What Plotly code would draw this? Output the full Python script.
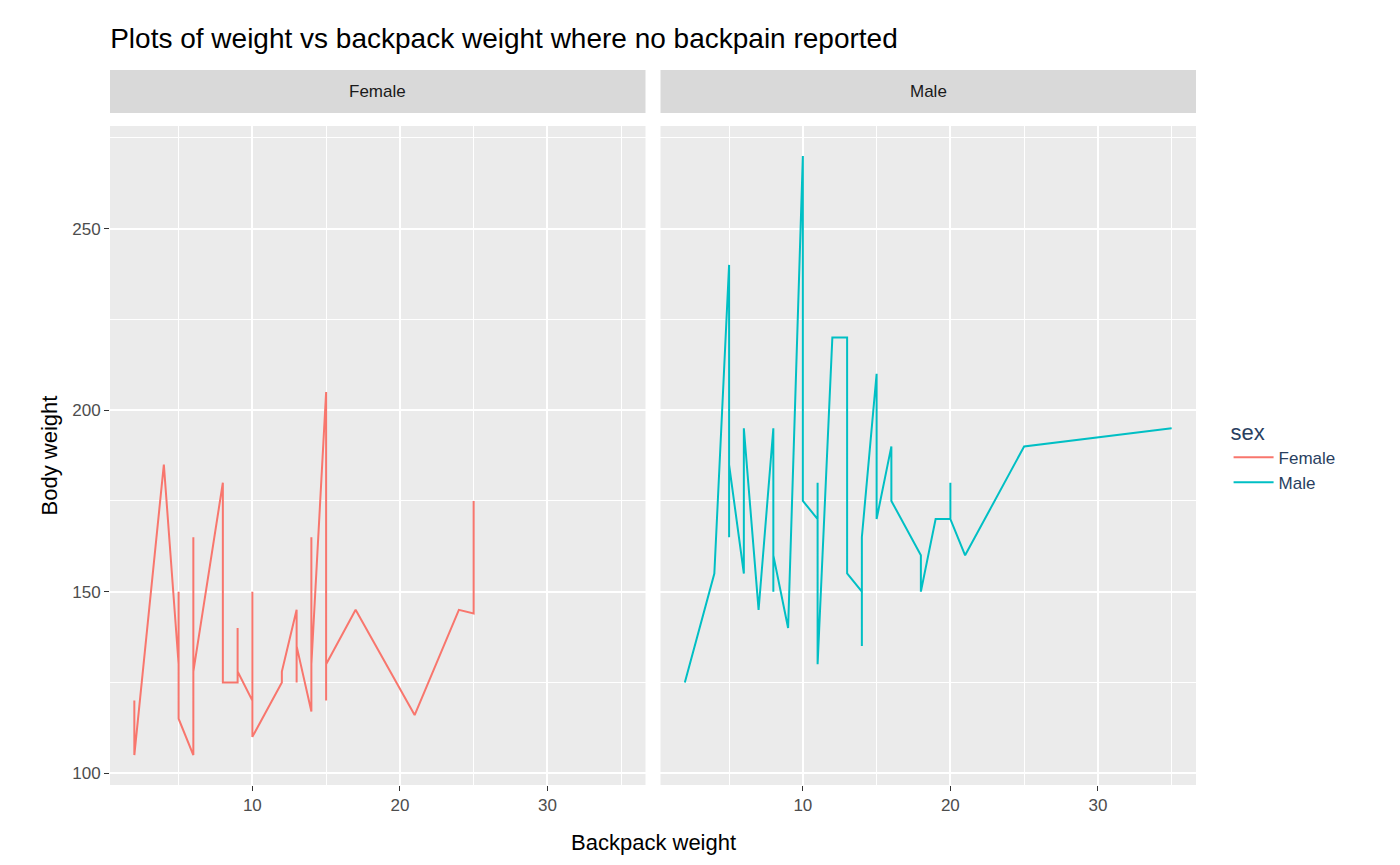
import plotly.graph_objects as go
from plotly.subplots import make_subplots

female_x = [2, 2, 4, 5, 5, 5, 6, 6, 6, 8, 8, 9, 9, 9, 10, 10, 10, 12, 12, 13, 13, 13,
            14, 14, 14, 15, 15, 15, 17, 21, 24, 25, 25]
female_y = [120, 105, 185, 130, 150, 115, 105, 165, 128, 180, 125, 125, 140, 128, 120, 150, 110,
            125, 128, 145, 125, 135, 117, 165, 130, 205, 120, 130, 145, 116, 145, 144, 175]
male_x = [2, 4, 5, 5, 5, 6, 6, 7, 8, 8, 8, 9, 10, 10, 11, 11, 11, 12, 13, 13, 14, 14, 14,
          15, 15, 16, 16, 18, 18, 19, 20, 20, 20, 21, 25, 35]
male_y = [125, 155, 240, 165, 185, 155, 195, 145, 195, 150, 160, 140, 270, 175, 170, 180, 130,
          220, 220, 155, 150, 135, 165, 210, 170, 190, 175, 160, 150, 170, 170, 180, 170, 160,
          190, 195]

RED = "#F8766D"
TEAL = "#00BFC4"
FONT = "Liberation Sans, Arial, sans-serif"

fig = make_subplots(rows=1, cols=2, shared_yaxes=True, horizontal_spacing=0.0138,
                    subplot_titles=["Female", "Male"])
fig.add_trace(go.Scatter(x=female_x, y=female_y, mode="lines", name="Female",
                         line=dict(color=RED, width=2)), 1, 1)
fig.add_trace(go.Scatter(x=male_x, y=male_y, mode="lines", name="Male",
                         line=dict(color=TEAL, width=2)), 1, 2)

for c in (1, 2):
    fig.update_xaxes(range=[0.35, 36.65], tickvals=[10, 20, 30], showgrid=True,
                     gridcolor="white", gridwidth=1.8, zeroline=False, automargin=False,
                     minor=dict(tickvals=[5, 15, 25, 35], showgrid=True, gridcolor="white", gridwidth=0.8),
                     ticks="outside", ticklen=5, tickcolor="#333333",
                     tickfont=dict(size=17, color="#4d4d4d"), row=1, col=c)
    fig.update_yaxes(range=[96.75, 278.25], tickvals=[100, 150, 200, 250], showgrid=True,
                     gridcolor="white", gridwidth=1.8, zeroline=False, automargin=False,
                     minor=dict(tickvals=[125, 175, 225, 275], showgrid=True, gridcolor="white", gridwidth=0.8),
                     row=1, col=c)
fig.update_yaxes(ticks="outside", ticklen=5, tickcolor="#333333",
                 tickfont=dict(size=17, color="#4d4d4d"),
                 title=dict(text="Body weight", font=dict(size=22, color="black"), standoff=8),
                 row=1, col=1)

# facet strips
for xr in ["x domain", "x2 domain"]:
    fig.add_shape(type="rect", xref=xr, yref="paper", x0=0, x1=1, y0=1.0197, y1=1.085,
                  fillcolor="#D9D9D9", line=dict(width=0), layer="below")
for a in fig.layout.annotations:
    a.update(y=1.052, yanchor="middle", font=dict(size=17, color="#1a1a1a"))

fig.add_annotation(text="Backpack weight", xref="paper", yref="paper", x=0.5, y=-0.087,
                   yanchor="middle", showarrow=False, font=dict(size=22, color="black"))

fig.update_layout(
    width=1400, height=865, font=dict(family=FONT),
    plot_bgcolor="#EBEBEB", paper_bgcolor="white",
    title=dict(text="Plots of weight vs backpack weight where no backpain reported",
               x=0.073, y=0.965, xanchor="left", yanchor="middle",
               font=dict(size=28, color="black")),
    margin=dict(l=102, r=212, t=118, b=88, autoexpand=False),
    legend=dict(title=dict(text="sex", font=dict(size=22)), x=1.03, y=0.5, yanchor="middle",
                font=dict(size=17), bgcolor="white", itemwidth=40),
)
fig.write_html("out.html")
